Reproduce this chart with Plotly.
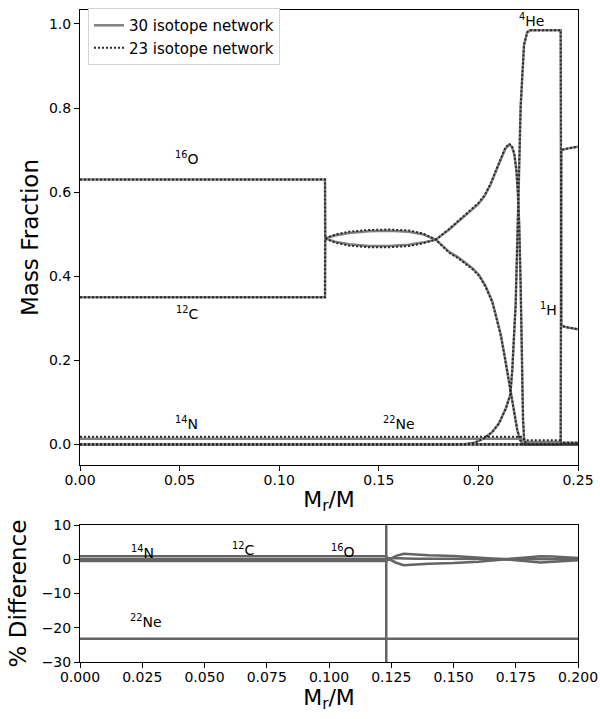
import plotly.graph_objects as go

# ---------------- abundance profiles (mass fraction vs M_r/M) ----------------
# 30 isotope network
c12_x_30 = [0.0, 0.1230, 0.1231, 0.128, 0.135, 0.145, 0.155, 0.165, 0.172, 0.1786, 0.185, 0.190,
            0.195, 0.200, 0.203, 0.206, 0.209, 0.2115, 0.2135, 0.2154, 0.2168, 0.2180, 0.2190,
            0.2198, 0.2205, 0.2212, 0.2218, 0.2224, 0.2230, 0.2240, 0.25]
c12_30 = [0.350, 0.350, 0.490, 0.482, 0.476, 0.472, 0.472, 0.475, 0.480, 0.487, 0.510, 0.530,
          0.550, 0.572, 0.590, 0.617, 0.652, 0.683, 0.703, 0.713, 0.708, 0.690, 0.655,
          0.600, 0.520, 0.380, 0.200, 0.060, 0.010, 0.001, 0.0]

o16_x_30 = [0.0, 0.1230, 0.1231, 0.128, 0.135, 0.145, 0.155, 0.165, 0.172, 0.1786, 0.182, 0.1853,
            0.1895, 0.1937, 0.1970, 0.2003, 0.2035, 0.207, 0.2092, 0.2112, 0.2132, 0.2150,
            0.2165, 0.2180, 0.2195, 0.2210, 0.2225, 0.25]
o16_30 = [0.630, 0.630, 0.490, 0.497, 0.503, 0.507, 0.508, 0.506, 0.500, 0.487, 0.472, 0.458,
          0.446, 0.432, 0.419, 0.403, 0.378, 0.340, 0.302, 0.262, 0.210, 0.160,
          0.118, 0.075, 0.035, 0.010, 0.0, 0.0]

he4_x_30 = [0.0, 0.192, 0.198, 0.203, 0.207, 0.2103, 0.2137, 0.216, 0.217, 0.2187, 0.2200, 0.2212,
            0.2229, 0.2245, 0.2260, 0.2413, 0.2416, 0.245, 0.250]
he4_30 = [0.0, 0.0, 0.004, 0.015, 0.030, 0.050, 0.085, 0.118, 0.176, 0.333, 0.567, 0.802,
          0.950, 0.980, 0.985, 0.985, 0.282, 0.278, 0.274]

h1_x_30 = [0.0, 0.2413, 0.2416, 0.245, 0.250]
h1_30 = [0.0, 0.0, 0.700, 0.704, 0.708]

ne22_x_30 = [0.0, 0.2215, 0.2235, 0.2413, 0.2416, 0.250]
ne22_30 = [0.0139, 0.0139, 0.006, 0.006, 0.002, 0.002]

n14_x_30 = [0.0, 0.2413, 0.2416, 0.250]
n14_30 = [0.0005, 0.0005, 0.004, 0.004]

# 23 isotope network
c12_x_23 = c12_x_30
c12_23 = [0.350, 0.350, 0.490, 0.480, 0.473, 0.469, 0.469, 0.472, 0.478, 0.487, 0.511, 0.532,
          0.552, 0.574, 0.592, 0.619, 0.654, 0.685, 0.705, 0.715, 0.710, 0.692, 0.657,
          0.602, 0.522, 0.382, 0.202, 0.061, 0.010, 0.001, 0.0]

o16_x_23 = o16_x_30
o16_23 = [0.630, 0.630, 0.490, 0.499, 0.506, 0.510, 0.511, 0.509, 0.502, 0.487, 0.471, 0.456,
          0.444, 0.430, 0.417, 0.401, 0.376, 0.338, 0.300, 0.260, 0.208, 0.158,
          0.117, 0.074, 0.035, 0.010, 0.0, 0.0]

he4_x_23 = he4_x_30
he4_23 = he4_30

h1_x_23 = h1_x_30
h1_23 = h1_30

ne22_x_23 = ne22_x_30
ne22_23 = [0.0181, 0.0181, 0.010, 0.010, 0.002, 0.002]

n14_x_23 = n14_x_30
n14_23 = n14_30

# ---------------- percent difference between the two networks ----------------
diff_x = [0.0, 0.1228, 0.1235, 0.127, 0.130, 0.135, 0.140, 0.150, 0.160, 0.170, 0.175,
          0.180, 0.185, 0.190, 0.195, 0.200]
o16_diff = [0.0, 0.0, -0.3, 1.0, 1.6, 1.3, 1.2, 1.0, 0.6, 0.05, -0.3, -0.7, -0.9, -0.7, -0.4, -0.3]
c12_diff = [-0.5, -0.5, 0.3, -1.0, -1.7, -1.4, -1.3, -1.1, -0.7, -0.05, 0.3, 0.7, 0.9, 0.8, 0.5, 0.4]
n14_diff = [0.9, 0.9, 0.4, 0.3, 0.2, 0.2, 0.2, 0.15, 0.1, 0.0, 0.0, 0.0, 0.0, 0.0, 0.0, 0.0]
ne22_diff = [-23.2, -23.2, -23.2, -23.2, -23.3, -23.4, -23.3, -23.2, -23.2, -23.2, -23.2,
             -23.2, -23.2, -23.2, -23.2, -23.2]

# edge of the C/O core
core_edge = 0.123

# label text and positions
top_labels = [("<sup>16</sup>O", 0.0536, 0.680), ("<sup>12</sup>C", 0.0536, 0.312),
              ("<sup>14</sup>N", 0.0536, 0.052), ("<sup>22</sup>Ne", 0.160, 0.052),
              ("<sup>4</sup>He", 0.2265, 1.010), ("<sup>1</sup>H", 0.2350, 0.323)]
bottom_labels = [("<sup>14</sup>N", 0.025, 2.2), ("<sup>12</sup>C", 0.0655, 3.1),
                 ("<sup>16</sup>O", 0.1055, 2.3), ("<sup>22</sup>Ne", 0.0265, -17.9)]

FONT = "DejaVu Sans"
SOLID = "rgb(128,128,128)"
DOTTED = "rgb(40,40,40)"
DIFF = "rgb(100,100,100)"

fig = go.Figure()

profiles_30 = [(c12_x_30, c12_30), (o16_x_30, o16_30), (he4_x_30, he4_30),
               (h1_x_30, h1_30), (ne22_x_30, ne22_30), (n14_x_30, n14_30)]
profiles_23 = [(c12_x_23, c12_23), (o16_x_23, o16_23), (he4_x_23, he4_23),
               (h1_x_23, h1_23), (ne22_x_23, ne22_23), (n14_x_23, n14_23)]

for i, (xs, ys) in enumerate(profiles_30):
    fig.add_trace(go.Scatter(x=xs, y=ys, mode="lines", xaxis="x", yaxis="y",
                             line=dict(color=SOLID, width=2.5),
                             name="30 isotope network", legendgroup="n30",
                             showlegend=(i == 0)))
for i, (xs, ys) in enumerate(profiles_23):
    fig.add_trace(go.Scatter(x=xs, y=ys, mode="lines", xaxis="x", yaxis="y",
                             line=dict(color=DOTTED, width=2, dash="2px,2px"),
                             name="23 isotope network", legendgroup="n23",
                             showlegend=(i == 0)))

for ys in (n14_diff, c12_diff, o16_diff, ne22_diff):
    fig.add_trace(go.Scatter(x=diff_x, y=ys, mode="lines", xaxis="x2", yaxis="y2",
                             line=dict(color=DIFF, width=2.5), showlegend=False))

fig.add_shape(type="line", xref="x2", yref="y2 domain", x0=core_edge, x1=core_edge,
              y0=0, y1=1, line=dict(color=DIFF, width=2.5))

annotations = []
for text, x, y in top_labels:
    annotations.append(dict(text=text, x=x, y=y, xref="x", yref="y", showarrow=False,
                            font=dict(family=FONT, size=14, color="black")))
for text, x, y in bottom_labels:
    annotations.append(dict(text=text, x=x, y=y, xref="x2", yref="y2", showarrow=False,
                            font=dict(family=FONT, size=14, color="black")))

axis_common = dict(showline=True, linecolor="black", linewidth=1, mirror=True,
                   ticks="outside", ticklen=5, tickwidth=1, tickcolor="black",
                   showgrid=False, zeroline=False,
                   tickfont=dict(family=FONT, size=14, color="black"))

fig.update_layout(
    width=600, height=719,
    margin=dict(l=80, r=21, t=2, b=57),
    paper_bgcolor="white", plot_bgcolor="white",
    font=dict(family=FONT, color="black"),
    xaxis=dict(domain=[0, 1], anchor="y", range=[0, 0.25],
               tickvals=[0.0, 0.05, 0.10, 0.15, 0.20, 0.25], tickformat=".2f",
               ticklabelstandoff=-3,
               title=dict(text="M<sub>r</sub>/M", font=dict(family=FONT, size=22, color="black"),
                          standoff=4),
               **axis_common),
    yaxis=dict(domain=[0.302, 1], anchor="x", range=[-0.049, 1.033],
               tickvals=[0.0, 0.2, 0.4, 0.6, 0.8, 1.0], tickformat=".1f",
               title=dict(text="Mass Fraction", font=dict(family=FONT, size=23, color="black"),
                          standoff=3),
               **axis_common),
    xaxis2=dict(domain=[0, 1], anchor="y2", range=[0, 0.2],
                tickvals=[0.0, 0.025, 0.05, 0.075, 0.1, 0.125, 0.15, 0.175, 0.2],
                tickformat=".3f", ticklabelstandoff=-3,
                title=dict(text="M<sub>r</sub>/M", font=dict(family=FONT, size=22, color="black"),
                           standoff=4),
                **axis_common),
    yaxis2=dict(domain=[0, 0.210], anchor="x2", range=[-30, 10],
                tickvals=[-30, -20, -10, 0, 10],
                title=dict(text="% Difference", font=dict(family=FONT, size=23, color="black"),
                           standoff=8),
                **axis_common),
    legend=dict(x=0.016, y=1.003, xanchor="left", yanchor="top",
                bgcolor="white", bordercolor="rgb(210,210,210)", borderwidth=1,
                font=dict(family=FONT, size=15, color="black"), itemwidth=30,
                tracegroupgap=0),
    annotations=annotations,
    showlegend=True,
)

fig.write_html("out.html")
